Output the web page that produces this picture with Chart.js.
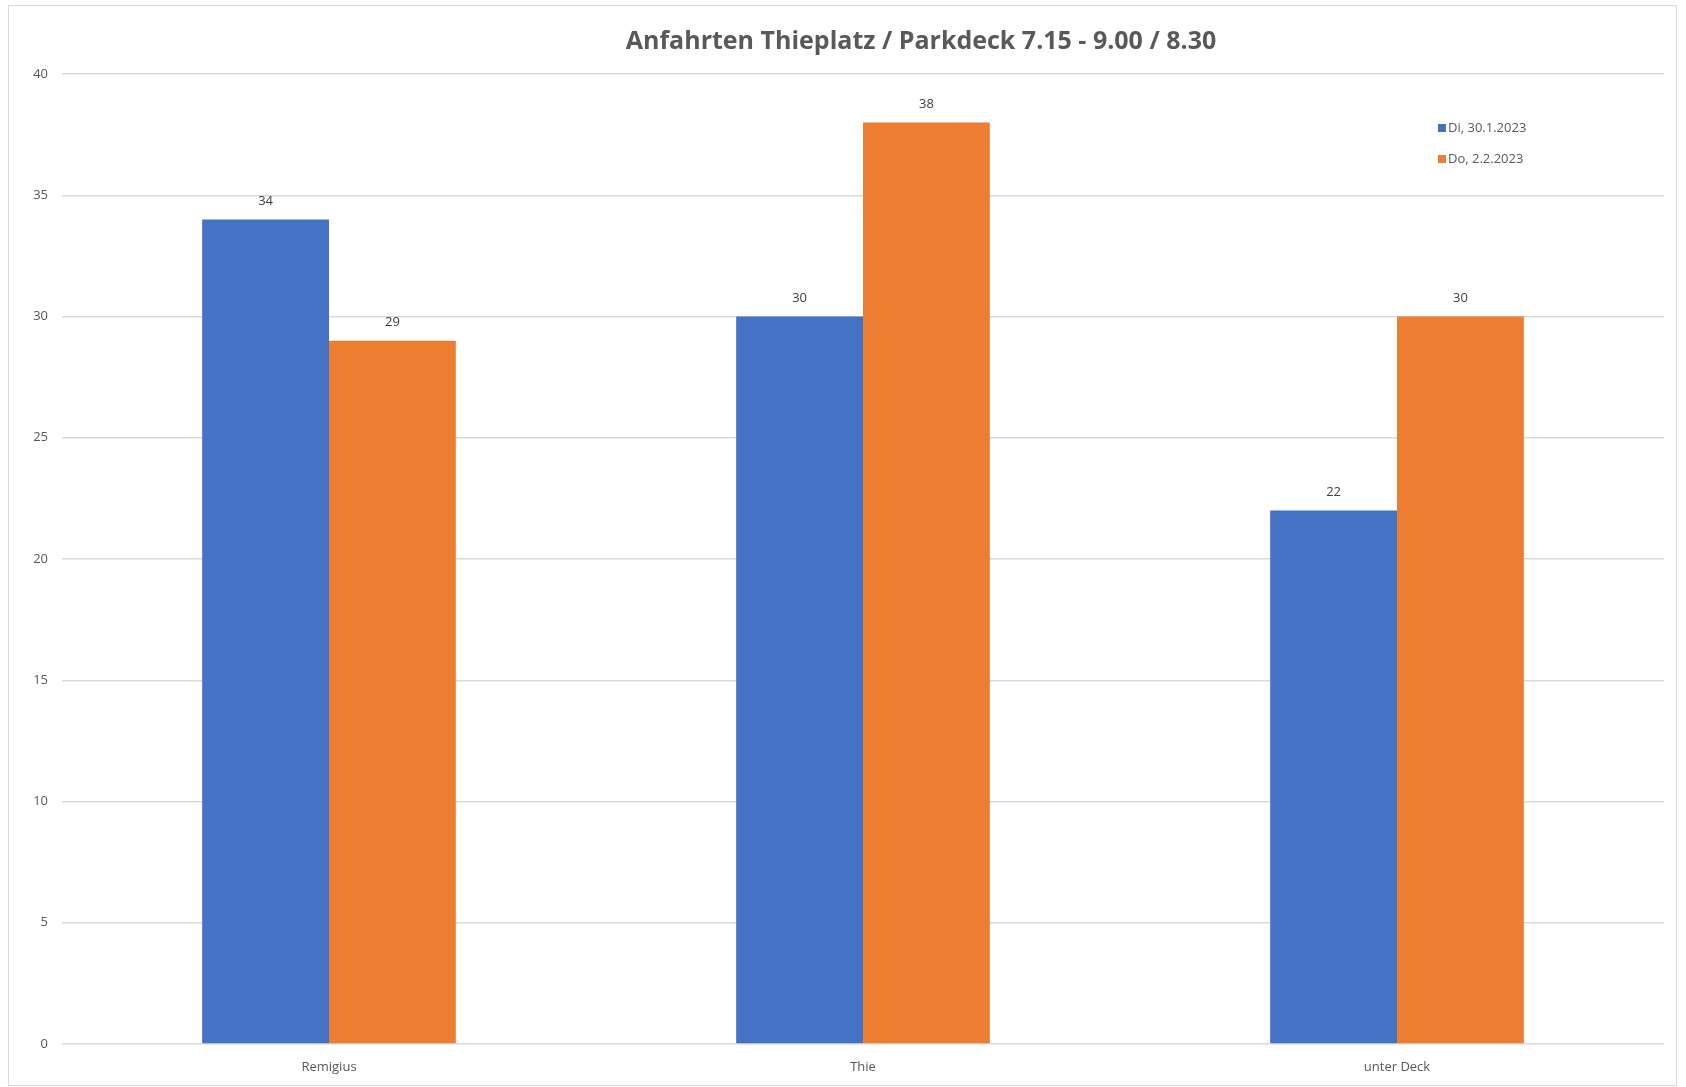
<!DOCTYPE html>
<html>
<head>
<meta charset="utf-8">
<script src="https://cdn.jsdelivr.net/npm/chart.js@4/dist/chart.umd.min.js"></script>
<style>
  body { margin: 0; background: #fff; }
  #wrap { position: absolute; left: 8px; top: 5px; width: 1667px; height: 1079px; border: 1px solid #d9d9d9; }
</style>
</head>
<body>
<div id="wrap"><canvas id="barChart"></canvas></div>
<script>
const categories = ['Remigius', 'Thie', 'unter Deck'];
const seriesNames = ['Di, 30.1.2023', 'Do, 2.2.2023'];
const tuesday = [34, 30, 22];
const thursday = [29, 38, 30];
const yTicks = [0, 5, 10, 15, 20, 25, 30, 35, 40];
const chartTitle = 'Anfahrten Thieplatz / Parkdeck 7.15 - 9.00 / 8.30';

const labelFont = '13px "Open Sans", sans-serif';

// title sits a bit right of the plot centre, like in the original sheet
const offsetTitle = {
    id: 'offsetTitle',
    afterDraw(chart) {
        const ctx = chart.ctx;
        const area = chart.chartArea;
        ctx.save();
        ctx.font = 'bold 25px "Open Sans", sans-serif';
        ctx.fillStyle = '#595959';
        ctx.textAlign = 'center';
        ctx.textBaseline = 'middle';
        ctx.fillText(chartTitle, (area.left + area.right) / 2 + 58, 36);
        ctx.restore();
    }
};

// value labels above each bar
const valueLabels = {
    id: 'valueLabels',
    afterDatasetsDraw(chart) {
        const ctx = chart.ctx;
        ctx.save();
        ctx.font = labelFont;
        ctx.fillStyle = '#404040';
        ctx.textAlign = 'center';
        ctx.textBaseline = 'middle';
        chart.data.datasets.forEach((ds, i) => {
            chart.getDatasetMeta(i).data.forEach((bar, j) => {
                ctx.fillText(ds.data[j], bar.x, bar.y - 18);
            });
        });
        ctx.restore();
    }
};

// small legend inside the plot, top right
const cornerLegend = {
    id: 'cornerLegend',
    afterDraw(chart) {
        const ctx = chart.ctx;
        const x = chart.chartArea.right - 226;
        let y = chart.chartArea.top + 54;
        ctx.save();
        ctx.font = labelFont;
        ctx.textBaseline = 'middle';
        ctx.textAlign = 'left';
        chart.data.datasets.forEach(ds => {
            ctx.fillStyle = ds.backgroundColor;
            ctx.fillRect(x, y - 4, 8, 8);
            ctx.fillStyle = '#595959';
            ctx.fillText(ds.label, x + 10, y);
            y += 31;
        });
        ctx.restore();
    }
};

new Chart(document.getElementById('barChart').getContext('2d'), {
    type: 'bar',
    data: {
        labels: categories,
        datasets: [
            { label: seriesNames[0], data: tuesday, backgroundColor: '#4472C4' },
            { label: seriesNames[1], data: thursday, backgroundColor: '#ED7D31' }
        ]
    },
    options: {
        responsive: true,
        maintainAspectRatio: false,
        animation: false,
        categoryPercentage: 0.475,
        barPercentage: 1,
        layout: { padding: { left: 0, right: 12, top: 68, bottom: 0 } },
        plugins: {
            legend: { display: false },
            tooltip: { enabled: false },
            title: { display: false }
        },
        scales: {
            x: {
                grid: { display: false },
                border: { display: false },
                ticks: { color: '#595959', font: { family: '"Open Sans", sans-serif', size: 13 }, padding: 7 },
                afterFit(s) { s.height = 41; }
            },
            y: {
                min: 0,
                max: 40,
                afterBuildTicks(s) { s.ticks = yTicks.map(v => ({ value: v })); },
                grid: { color: '#d9d9d9', lineWidth: 1.5, drawTicks: false },
                border: { display: false },
                ticks: { color: '#595959', font: { family: '"Open Sans", sans-serif', size: 13 }, padding: 14 },
                afterFit(s) { s.width = 53; }
            }
        }
    },
    plugins: [offsetTitle, valueLabels, cornerLegend]
});
</script>
</body>
</html>
